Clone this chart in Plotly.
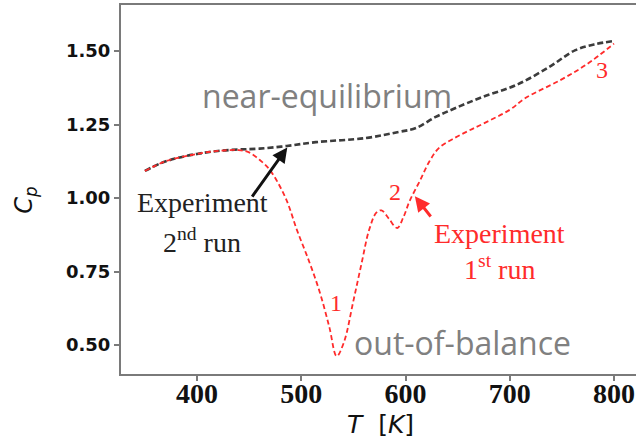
import plotly.graph_objects as go

# Heat capacity scans (T in K, Cp normalised)
t_run2 = [350, 365, 380, 400, 420, 440, 460, 486, 514, 562, 594, 610, 629, 648, 674, 706, 738, 763, 783, 800]
cp_run2 = [1.092, 1.118, 1.135, 1.150, 1.160, 1.165, 1.168, 1.177, 1.190, 1.204, 1.225, 1.238, 1.276, 1.306,
           1.344, 1.384, 1.446, 1.503, 1.524, 1.534]

t_run1 = [350, 370, 400, 420, 440, 450, 460, 470, 485, 496, 508, 518, 527, 534, 541, 550, 558, 565, 572, 577,
          584, 592, 598, 604, 614, 623, 632, 645, 660, 674, 700, 715, 748, 774, 800]
cp_run1 = [1.092, 1.125, 1.150, 1.160, 1.163, 1.155, 1.130, 1.095, 1.000, 0.890, 0.780, 0.677, 0.560, 0.462,
           0.510, 0.650, 0.780, 0.890, 0.950, 0.958, 0.930, 0.898, 0.935, 0.990, 1.060, 1.125, 1.170, 1.200,
           1.228, 1.252, 1.300, 1.340, 1.400, 1.455, 1.525]

x_ticks = [400, 500, 600, 700, 800]
y_ticks = [0.50, 0.75, 1.00, 1.25, 1.50]
y_ticklabels = ["0.50", "0.75", "1.00", "1.25", "1.50"]

RED = "#ff2b2b"
DARK = "#3c3c3c"
GRAY_TXT = "#808080"
AXIS = "#7a7a7a"

fig = go.Figure()
fig.add_trace(go.Scatter(x=t_run2, y=cp_run2, mode="lines", line_shape="spline",
                         line=dict(color=DARK, width=2.6, dash="6px,3px"), showlegend=False))
fig.add_trace(go.Scatter(x=t_run1, y=cp_run1, mode="lines", line_shape="spline",
                         line=dict(color=RED, width=1.8, dash="5px,3px"), showlegend=False))

serif = "Liberation Serif"
ann = []
# region labels
ann.append(dict(x=524.7, y=1.347, text="near-equilibrium", showarrow=False,
                font=dict(family="Open Sans", size=32, color=GRAY_TXT)))
ann.append(dict(x=655, y=0.510, text="out-of-balance", showarrow=False,
                font=dict(family="Open Sans", size=32, color=GRAY_TXT)))
# run labels
ann.append(dict(x=404.8, y=0.986, text="Experiment", showarrow=False,
                font=dict(family=serif, size=28, color="#222222")))
ann.append(dict(x=404.8, y=0.857, text="2<sup>nd</sup> run", showarrow=False,
                font=dict(family=serif, size=28, color="#222222")))
ann.append(dict(x=689.7, y=0.881, text="Experiment", showarrow=False,
                font=dict(family=serif, size=28, color=RED)))
ann.append(dict(x=690.6, y=0.762, text="1<sup>st</sup> run", showarrow=False,
                font=dict(family=serif, size=28, color=RED)))
# peak numbers
ann.append(dict(x=533.3, y=0.643, text="1", showarrow=False, font=dict(family=serif, size=24, color=RED)))
ann.append(dict(x=590.0, y=1.020, text="2", showarrow=False, font=dict(family=serif, size=24, color=RED)))
ann.append(dict(x=788.5, y=1.435, text="3", showarrow=False, font=dict(family=serif, size=24, color=RED)))
# arrows
ann.append(dict(x=486.6, y=1.172, ax=451.9, ay=1.000, axref="x", ayref="y", text="", showarrow=True,
                arrowhead=2, arrowsize=1.0, arrowwidth=3, arrowcolor="#111111"))
ann.append(dict(x=609.0, y=1.006, ax=625.3, ay=0.932, axref="x", ayref="y", text="", showarrow=True,
                arrowhead=2, arrowsize=1.0, arrowwidth=3, arrowcolor=RED))
# axis titles
ann.append(dict(xref="paper", yref="paper", x=-0.186, y=0.47, xanchor="center", yanchor="middle",
                textangle=-90, showarrow=False, text="<i>C</i><sub><i>p</i></sub>",
                font=dict(family="DejaVu Sans", size=24, color="#111111")))
ann.append(dict(xref="paper", yref="paper", x=0.503, y=-0.138, xanchor="center", yanchor="middle",
                showarrow=False, text="<i>T</i>&nbsp;&nbsp;[<i>K</i>]",
                font=dict(family="DejaVu Sans", size=25, color="#111111")))

fig.update_layout(
    width=636, height=444,
    margin=dict(l=121, r=0, t=5, b=70),
    paper_bgcolor="white", plot_bgcolor="white",
    annotations=ann,
    xaxis=dict(range=[327.1, 821.1], tickvals=x_ticks, showgrid=False, zeroline=False,
               showline=True, linecolor=AXIS, linewidth=2, mirror=True,
               ticks="outside", ticklen=5, tickwidth=1.5, tickcolor=AXIS, ticklabelstandoff=-12,
               tickfont=dict(family=serif, size=28, color="#111111", weight="bold")),
    yaxis=dict(range=[0.4014, 1.6565], tickvals=y_ticks, ticktext=y_ticklabels, showgrid=False,
               zeroline=False, showline=True, linecolor=AXIS, linewidth=2, mirror=False,
               ticks="outside", ticklen=5, tickwidth=1.5, tickcolor=AXIS,
               tickfont=dict(family="DejaVu Sans", size=18, color="#111111", weight="bold")),
)

fig.write_html("out.html")
